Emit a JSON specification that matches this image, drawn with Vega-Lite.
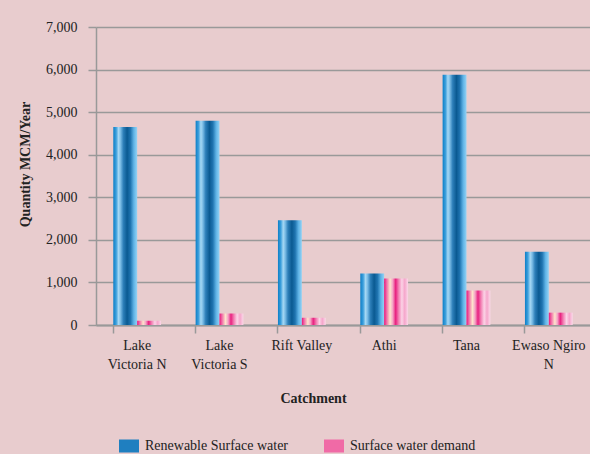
{
  "$schema": "https://vega.github.io/schema/vega-lite/v6.json",
  "width": 494,
  "height": 298,
  "autosize": {"type": "none"},
  "padding": {"left": 96, "top": 27, "right": 0, "bottom": 129},
  "background": "#e8ccce",
  "config": {"view": {"stroke": null}, "font": "Liberation Serif"},
  "data": {
    "values": [
      {"catchment": "Lake Victoria N", "series": "Renewable Surface water", "value": 4650},
      {"catchment": "Lake Victoria N", "series": "Surface water demand", "value": 100},
      {"catchment": "Lake Victoria S", "series": "Renewable Surface water", "value": 4800},
      {"catchment": "Lake Victoria S", "series": "Surface water demand", "value": 270},
      {"catchment": "Rift Valley", "series": "Renewable Surface water", "value": 2460},
      {"catchment": "Rift Valley", "series": "Surface water demand", "value": 170},
      {"catchment": "Athi", "series": "Renewable Surface water", "value": 1210},
      {"catchment": "Athi", "series": "Surface water demand", "value": 1095},
      {"catchment": "Tana", "series": "Renewable Surface water", "value": 5880},
      {"catchment": "Tana", "series": "Surface water demand", "value": 810},
      {"catchment": "Ewaso Ngiro N", "series": "Renewable Surface water", "value": 1720},
      {"catchment": "Ewaso Ngiro N", "series": "Surface water demand", "value": 290}
    ]
  },
  "mark": {"type": "bar"},
  "encoding": {
    "x": {
      "field": "catchment",
      "type": "nominal",
      "sort": null,
      "scale": {"paddingInner": 0.42, "paddingOuter": 0.21},
      "axis": {
        "title": "Catchment",
        "titleFont": "Liberation Serif",
        "titleFontSize": 14,
        "titleFontWeight": "bold",
        "titleColor": "#222222",
        "titleX": 217,
        "titleY": 77,
        "titleBaseline": "alphabetic",
        "titleAlign": "center",
        "labelAngle": 0,
        "labelFontSize": 14,
        "labelColor": "#222222",
        "labelPadding": 5,
        "labelBaseline": "top",
        "labelLineHeight": 19,
        "labelExpr": "datum.label == 'Ewaso Ngiro N' ? ['Ewaso Ngiro', 'N'] : indexof(datum.label, 'Lake ') == 0 ? ['Lake', substring(datum.label, 5)] : datum.label",
        "bandPosition": 0,
        "tickSize": 8,
        "tickColor": "#999999",
        "tickWidth": 1.5,
        "domainColor": "#999999",
        "domainWidth": 2
      }
    },
    "xOffset": {"field": "series", "sort": ["Renewable Surface water", "Surface water demand"]},
    "y": {
      "field": "value",
      "type": "quantitative",
      "scale": {"domain": [0, 7000]},
      "axis": {
        "title": "Quantity MCM/Year",
        "titleFont": "Liberation Serif",
        "titleFontSize": 14,
        "titleFontWeight": "bold",
        "titleColor": "#222222",
        "titleX": -71,
        "titleY": 137,
        "titleAngle": -90,
        "titleBaseline": "middle",
        "titleAlign": "center",
        "values": [0, 1000, 2000, 3000, 4000, 5000, 6000, 7000],
        "format": ",.0f",
        "labelFontSize": 14,
        "labelColor": "#222222",
        "labelPadding": 11,
        "tickSize": 8,
        "tickColor": "#999999",
        "tickWidth": 1.5,
        "gridColor": "#999999",
        "gridWidth": 1.5,
        "domainColor": "#999999",
        "domainWidth": 1.5
      }
    },
    "color": {
      "field": "series",
      "type": "nominal",
      "sort": ["Renewable Surface water", "Surface water demand"],
      "scale": {"range": ["#1f7fc0", "#f06aa6"]},
      "condition": [
        {"test": "(datum.series || datum.value) === 'Renewable Surface water'", "value": {"gradient": "linear", "x1": 0, "x2": 1, "y1": 0, "y2": 0, "stops": [
            {"offset": 0, "color": "#0c7fc7"},
            {"offset": 0.12, "color": "#3c9fdc"},
            {"offset": 0.22, "color": "#a6d8f4"},
            {"offset": 0.3, "color": "#7cbde6"},
            {"offset": 0.42, "color": "#2d7fb9"},
            {"offset": 0.58, "color": "#0a5a92"},
            {"offset": 0.72, "color": "#1f74b0"},
            {"offset": 0.86, "color": "#5fb3e6"},
            {"offset": 1, "color": "#94d3f5"}
          ]}},
        {"test": "(datum.series || datum.value) === 'Surface water demand'", "value": {"gradient": "linear", "x1": 0, "x2": 1, "y1": 0, "y2": 0, "stops": [
            {"offset": 0, "color": "#e8157a"},
            {"offset": 0.1, "color": "#f06aa6"},
            {"offset": 0.25, "color": "#fde4cc"},
            {"offset": 0.36, "color": "#f5a3c6"},
            {"offset": 0.48, "color": "#e8207f"},
            {"offset": 0.6, "color": "#f27cb1"},
            {"offset": 0.74, "color": "#fbd3e6"},
            {"offset": 0.86, "color": "#f5a6cb"},
            {"offset": 1, "color": "#fbd8e9"}
          ]}}
      ],
      "legend": {
        "title": null,
        "orient": "none",
        "legendX": 23,
        "legendY": 409,
        "direction": "horizontal",
        "columns": 2,
        "columnPadding": 35,
        "padding": 0,
        "labelFontSize": 14,
        "labelColor": "#222222",
        "labelFont": "Liberation Serif",
        "labelOffset": 6,
        "symbolType": "M-1,-0.65H1V0.65H-1Z",
        "symbolSize": 400,
        "symbolStrokeWidth": 0,
        "symbolOpacity": 1
      }
    }
  }
}
